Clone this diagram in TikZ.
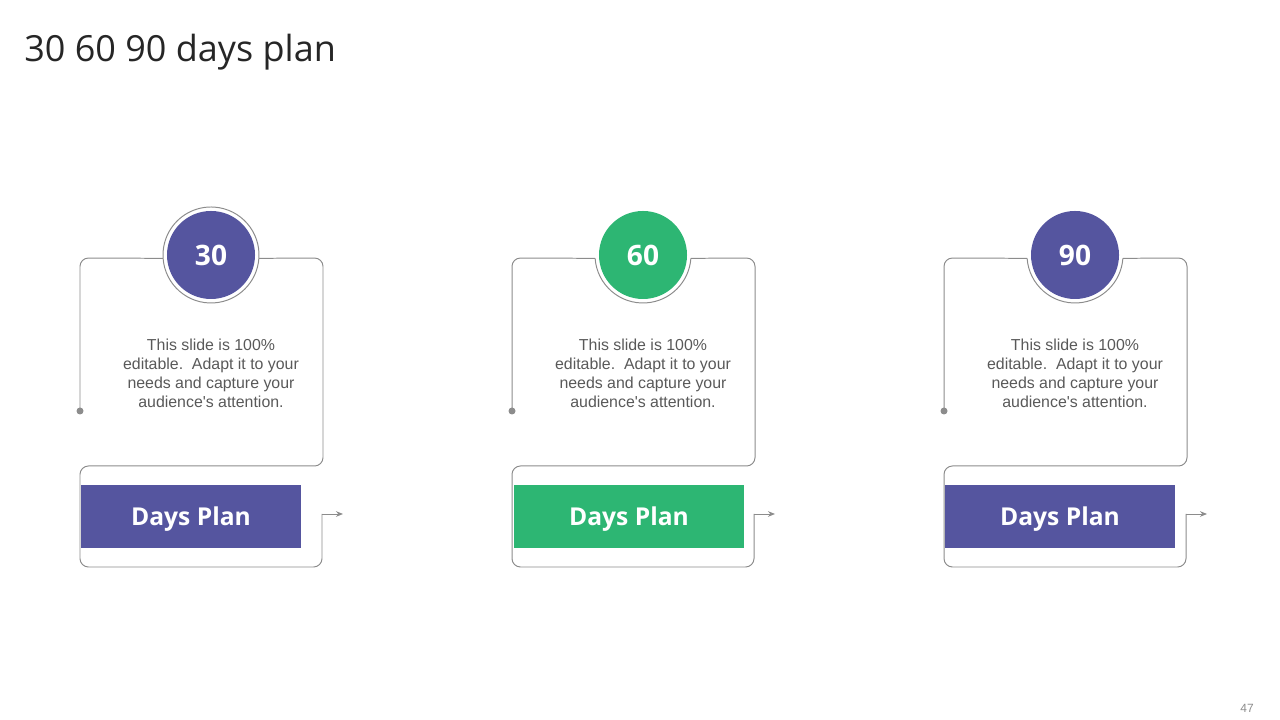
\documentclass[tikz,border=0pt]{standalone}
\usepackage{fontspec}
\setmainfont{Liberation Sans}
\newfontfamily\titlefont{Open Sans}
\usepackage{xcolor}
\usepackage{tikz}
\usetikzlibrary{calc,arrows.meta}
\definecolor{planblue}{HTML}{55559F}
\definecolor{plangreen}{HTML}{2DB673}
\definecolor{linegray}{HTML}{8C8C8C}
\definecolor{textgray}{HTML}{595959}
\definecolor{titlegray}{HTML}{262626}

\begin{document}
\begin{tikzpicture}[x=0.025cm, y=0.025cm,
	wire/.style={linegray, line width=0.7pt, rounded corners=6pt},
	ring/.style={circle, minimum size=2.4cm, inner sep=0pt, outer sep=0pt}]
\useasboundingbox (0,0) rectangle (1280,720);
\node[anchor=base west, inner sep=0pt, text=titlegray, font=\titlefont\fontsize{25.6}{30}\selectfont] (title) at (24,658) {30 60 90 days plan};
\foreach \i/\o/\col/\num/\w/\cx in {1/0/planblue/30/220/191, 2/432/plangreen/60/230/629, 3/864/planblue/90/230/1060}{
	% badge on top
	\node[circle, fill=\col, minimum size=2.2cm, inner sep=0pt, text=white, font=\titlefont\bfseries\fontsize{20}{24}\selectfont] (num\i) at ({211+\o},465) {\num};
	\node[ring] (ring\i) at (num\i) {};
	\coordinate (dot\i) at ({80+\o},309);
	\coordinate (bend\i) at ({322+\o},206);
	\coordinate (tip\i) at ({343+\o},206);
	\fill[linegray] (dot\i) circle (3.5);
	\draw[wire] (dot\i) -- ({80+\o},462) -- (ring\i.184);
	\draw[wire] (ring\i.184) arc[start angle=184, end angle=356, radius=48];
	\draw[wire] (ring\i.356) -- ({323+\o},462) -- ({323+\o},254) -- ({80+\o},254) -- ({80+\o},153) -- ({322+\o},153) -- (bend\i);
	\draw[linegray, line width=0.7pt, -{Stealth[length=5pt,width=4pt]}] (bend\i) -- (tip\i);
	\node[align=center, text=textgray, font=\fontsize{11.3}{13.5}\selectfont] (txt\i) at ({211+\o},347) {This slide is 100\%\\editable.\ \ Adapt it to your\\needs and capture your\\audience\textquotesingle s attention.};
	\node[fill=\col, minimum width=0.025cm*\w, minimum height=1.575cm, inner sep=0pt, text depth=0pt, text=white, font=\titlefont\bfseries\fontsize{17.5}{21}\selectfont] (plan\i) at (\cx,203.5) {Days Plan};
}
\draw[wire] (ring1.356) arc[start angle=-4, end angle=184, radius=48];
\node[text=linegray, font=\fontsize{8.5}{10}\selectfont] (page) at (1247,12) {47};
\end{tikzpicture}
\end{document}
